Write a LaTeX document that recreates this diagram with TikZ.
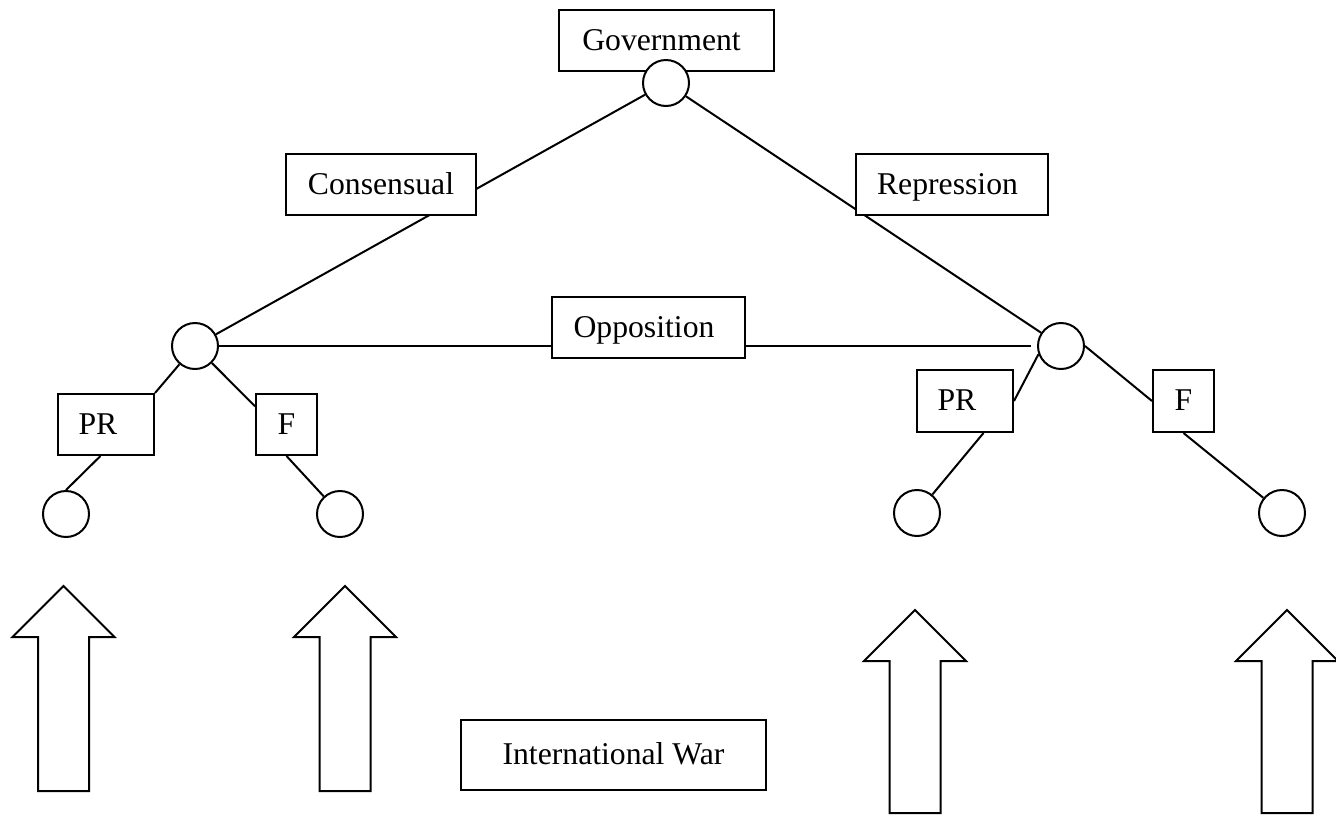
\documentclass[tikz,border=0pt]{standalone}
\usepackage{fontspec}
\setmainfont{Liberation Serif}
\usetikzlibrary{backgrounds}
\definecolor{warink}{HTML}{000000}
\tikzset{
  bx/.style={draw=warink, fill=white, line width=2pt, inner sep=0pt,
    text height=24pt, text depth=5pt, minimum height=61pt},
  rpad/.style={execute at end node={\hspace*{#1}}},
  dot/.style={circle, draw=warink, fill=white, line width=2pt, minimum size=46pt, inner sep=0pt},
  ln/.style={line width=2pt, color=warink},
  bigarr/.style={draw=warink, fill=white, line width=2pt, line join=miter},
}
\begin{document}
\begin{tikzpicture}[x=1pt, y=-1pt, font=\fontsize{31.7pt}{38pt}\selectfont]
  \useasboundingbox (0,0) rectangle (1336,815);
  % top of the tree
  \node[bx, minimum width=215pt, rpad=10pt] (gov) at (666.5,40.5) {Government};
  \node[dot] (gc) at (666,83) {};
  \node[bx, minimum width=190pt] (cons) at (381,184.5) {Consensual};
  \node[bx, minimum width=192pt, rpad=9pt] (rep) at (952,184.5) {Repression};
  \node[dot] (lc) at (195,346) {};
  \node[dot] (rc) at (1061,346) {};
  \node[bx, minimum width=193pt, rpad=9pt] (opp) at (648.5,327.5) {Opposition};
  % left branch
  \node[bx, minimum width=96pt, rpad=16pt] (prl) at (106,424.5) {PR};
  \node[bx, minimum width=61pt] (frl) at (286.5,424.5) {F};
  \node[dot] (c1) at (66,514) {};
  \node[dot] (c2) at (340,514) {};
  % right branch
  \node[bx, minimum width=96pt, minimum height=62pt, rpad=16pt] (prr) at (965,401) {PR};
  \node[bx, minimum width=61pt, minimum height=62pt] (frr) at (1183.5,401) {F};
  \node[dot] (c3) at (917,513) {};
  \node[dot] (c4) at (1282,513) {};
  \node[bx, minimum width=305pt, minimum height=70pt] (war) at (613.5,755) {International War};
  \begin{scope}[on background layer]
    \draw[ln] (gc) -- (lc); \draw[ln] (gc) -- (rc);
    \draw[ln, shorten >=6pt] (lc) -- (rc);
    \draw[ln] (lc) -- (prl.north east); \draw[ln] (lc) -- (frl.150);
    \draw[ln] (prl.-100) -- (c1.north); \draw[ln] (frl.south) -- (c2);
    \draw[ln] (rc.200) -- (prr.east); \draw[ln] (rc.east) -- (frr.west);
    \draw[ln] (prr.-60) -- (c3); \draw[ln] (frr.south) -- (c4);
  \end{scope}
  % block arrows
  \foreach \ax/\ay/\sh in {63.5/586/154, 345/586/154, 915/610/152, 1287/610/152}
    \draw[bigarr] (\ax,\ay) -- ++(51,51) -- ++(-25.5,0) -- ++(0,\sh) -- ++(-51,0) -- ++(0,-\sh) -- ++(-25.5,0) -- cycle;
\end{tikzpicture}
\end{document}
